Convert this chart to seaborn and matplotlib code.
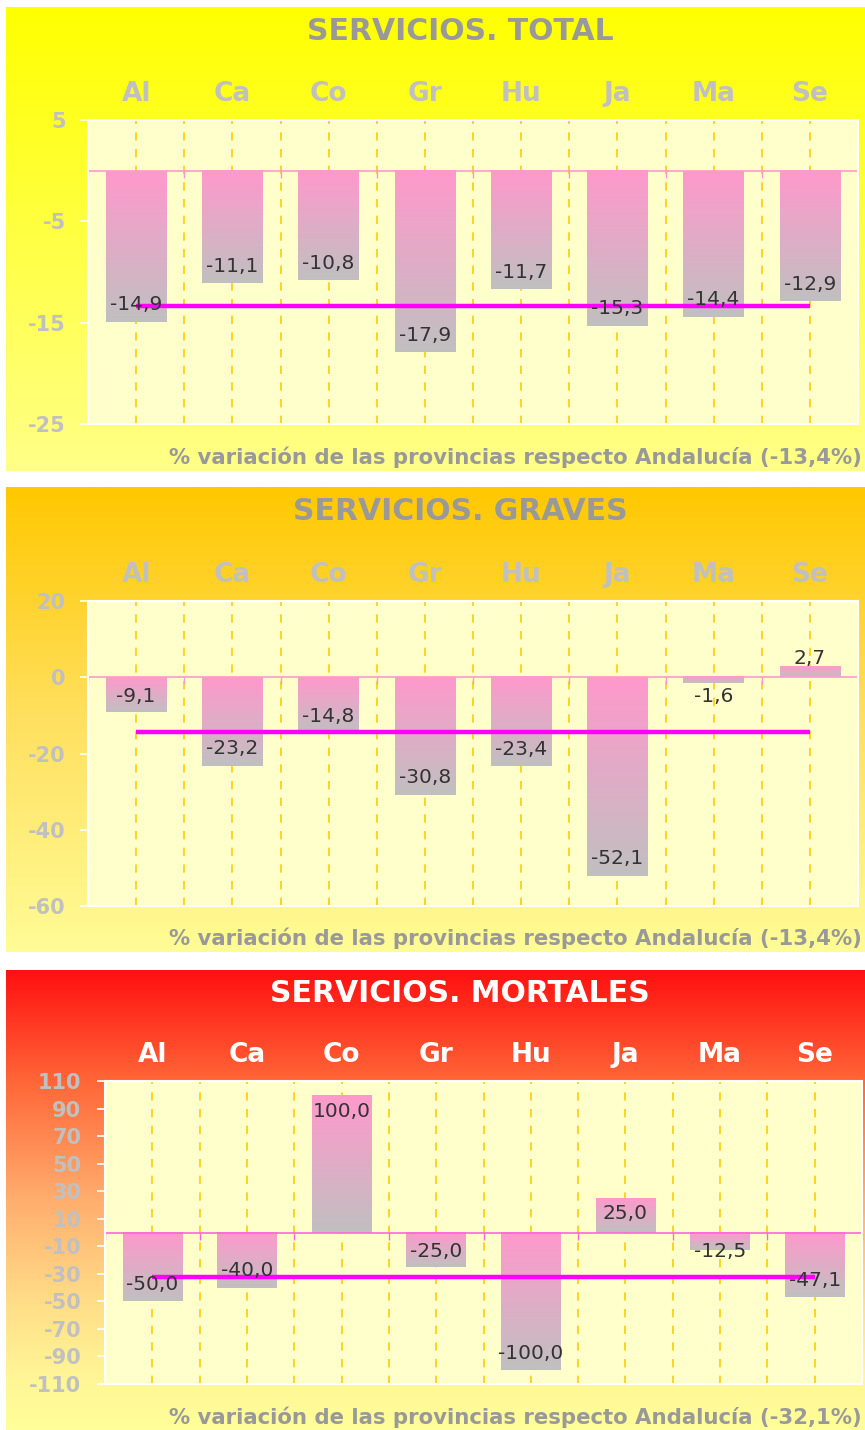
import numpy as np
import pandas as pd
import matplotlib
matplotlib.use("Agg")
import matplotlib.pyplot as plt
import matplotlib.colors as mcolors
from matplotlib.patches import Rectangle
import seaborn as sns

plt.rcParams["axes.unicode_minus"] = False

# -------------------------------------------------------------------
# Data
# -------------------------------------------------------------------
provincias = ["Al", "Ca", "Co", "Gr", "Hu", "Ja", "Ma", "Se"]

total_vals = [-14.9, -11.1, -10.8, -17.9, -11.7, -15.3, -14.4, -12.9]
graves_vals = [-9.1, -23.2, -14.8, -30.8, -23.4, -52.1, -1.6, 2.7]
mortales_vals = [-50.0, -40.0, 100.0, -25.0, -100.0, 25.0, -12.5, -47.1]

total_andalucia = -13.4
graves_andalucia = -14.4
mortales_andalucia = -32.1

total_ticks = [5, -5, -15, -25]
graves_ticks = [20, 0, -20, -40, -60]
mortales_ticks = [110, 90, 70, 50, 30, 10, -10, -30, -50, -70, -90, -110]

titles = ["SERVICIOS. TOTAL", "SERVICIOS. GRAVES", "SERVICIOS. MORTALES"]
footers = ["% variación de las provincias respecto Andalucía (-13,4%)",
           "% variación de las provincias respecto Andalucía (-13,4%)",
           "% variación de las provincias respecto Andalucía (-32,1%)"]

# -------------------------------------------------------------------
# Layout helpers (pixel coordinates, origin top-left)
# -------------------------------------------------------------------
W, H = 865, 1430
fig = plt.figure(figsize=(W / 100, H / 100), dpi=100)
fig.patch.set_facecolor("white")


def rect(x0, y0, x1, y1):
    return [x0 / W, 1 - y1 / H, (x1 - x0) / W, (y1 - y0) / H]


def gradient(stops, n=256):
    cmap = mcolors.LinearSegmentedColormap.from_list("g", stops)
    return cmap(np.linspace(0, 1, n))[:, None, :3]


panels = [
    dict(vals=total_vals, avg=total_andalucia, ticks=total_ticks, lim=(-25, 5),
         box=(6, 7, 865, 471), plot=(88, 120, 858, 424),
         bg=[(0, "#FFFF00"), (1, "#FFFF88")], title_c="#999999", cat_c="#C0C0C0",
         zero_c="#FF99CC", title_y=31, foot_y=457, tick_pad=10),
    dict(vals=graves_vals, avg=graves_andalucia, ticks=graves_ticks, lim=(-60, 20),
         box=(6, 487, 865, 952), plot=(88, 601, 858, 906),
         bg=[(0, "#FFC800"), (0.5, "#FFE060"), (1, "#FFFC96")],
         title_c="#999999", cat_c="#C0C0C0",
         zero_c="#FF99CC", title_y=512, foot_y=938, tick_pad=10),
    dict(vals=mortales_vals, avg=mortales_andalucia, ticks=mortales_ticks, lim=(-110, 110),
         box=(6, 970, 865, 1430), plot=(105, 1081, 862, 1384),
         bg=[(0, "#FF1010"), (0.24, "#FF6638"), (0.5, "#FFAE6E"),
             (0.72, "#FFDD88"), (0.88, "#FFF596"), (1, "#FFFF99")],
         title_c="white", cat_c="white",
         zero_c="#FF66DD", title_y=994, foot_y=1417, tick_pad=11),
]

bar_grad = gradient(["#FF99CC", "#C0C0C0"])
axes = []

for i, p in enumerate(panels):
    # gradient panel background
    bg = fig.add_axes(rect(*p["box"]))
    bg.imshow(gradient(p["bg"]), aspect="auto", extent=[0, 1, 0, 1])
    bg.set_axis_off()

    ax = fig.add_axes(rect(*p["plot"]))
    axes.append(ax)
    ax.set_facecolor("#FFFFCC")
    df = pd.DataFrame({"prov": provincias, "val": p["vals"]})
    sns.barplot(data=df, x="prov", y="val", ax=ax, width=0.63,
                color="#FF99CC", saturation=1, errorbar=None)

    # replace flat bars by a pink -> grey gradient
    for patch in list(ax.patches):
        x0, w = patch.get_x(), patch.get_width()
        y0, h = patch.get_y(), patch.get_height()
        ax.imshow(bar_grad, extent=[x0, x0 + w, min(y0, y0 + h), max(y0, y0 + h)],
                  aspect="auto", origin="upper", zorder=2)
        patch.set_visible(False)

    n = len(provincias)
    ax.set_xlim(-0.5, n - 0.5)
    ax.set_ylim(*p["lim"])

    # Andalucia reference line
    ax.plot(np.arange(n), np.full(n, p["avg"]), color="#FF00FF", lw=3.2,
            solid_capstyle="butt", zorder=3)

    # axes styling
    ax.set_xlabel("")
    ax.set_ylabel("")
    ax.set_xticks(np.arange(n))
    ax.set_xticklabels(provincias)
    ax.set_xticks(np.arange(n + 1) - 0.5, minor=True)
    ax.tick_params(axis="x", which="major", bottom=False, top=False,
                   labelbottom=False, labeltop=True, pad=6,
                   labelsize=19, labelcolor=p["cat_c"])
    ax.tick_params(axis="x", which="minor", bottom=True, top=False,
                   direction="out", length=5, color=p["zero_c"], width=1)
    ax.grid(True, axis="x", which="both", color="#FFCC00",
            linestyle=(0, (5, 5)), lw=1.2, zorder=0)
    ax.set_axisbelow(True)

    ax.set_yticks(p["ticks"])
    ax.set_yticklabels([str(t) for t in p["ticks"]], fontweight="bold")
    ax.tick_params(axis="y", left=True, length=6, width=1.2, color="white",
                   pad=p["tick_pad"], labelsize=15, labelcolor="#C0C0C0")

    ax.spines["bottom"].set_position(("data", 0))
    ax.spines["bottom"].set_color(p["zero_c"])
    ax.spines["bottom"].set_linewidth(1.2)
    ax.spines["top"].set_visible(False)
    ax.spines["right"].set_visible(False)
    ax.spines["left"].set_visible(False)
    ax.add_patch(Rectangle((0, 0), 1, 1, transform=ax.transAxes, fill=False,
                           edgecolor="white", lw=1.5, clip_on=False, zorder=5))

    # value labels (inside end, pushed out of short bars)
    zero_px = ax.transData.transform((0, 0))[1]
    inv = ax.transData.inverted()
    for k, v in enumerate(p["vals"]):
        v_px = ax.transData.transform((0, v))[1]
        sign = 1 if v > 0 else -1
        dist = max(abs(v_px - zero_px) - 17, 19)
        y_lab = inv.transform((0, zero_px + sign * dist))[1]
        ax.text(k, y_lab, f"{v:.1f}".replace(".", ","), ha="center", va="center",
                fontsize=14.5, color="#333333", zorder=6)

    # title and footer
    fig.text(460 / W, 1 - p["title_y"] / H, titles[i], ha="center", va="center",
             fontsize=21.5, fontweight="bold", color=p["title_c"])
    fig.text(862 / W, 1 - p["foot_y"] / H, footers[i], ha="right", va="center",
             fontsize=15.3, fontweight="bold", color="#999999")

# bold category labels on top (after ticks are built)
fig.canvas.draw()
for ax in axes:
    for tk in ax.xaxis.get_major_ticks():
        tk.label1.set_fontweight("bold")
        tk.label2.set_fontweight("bold")

fig.savefig("out.png", dpi=100)
